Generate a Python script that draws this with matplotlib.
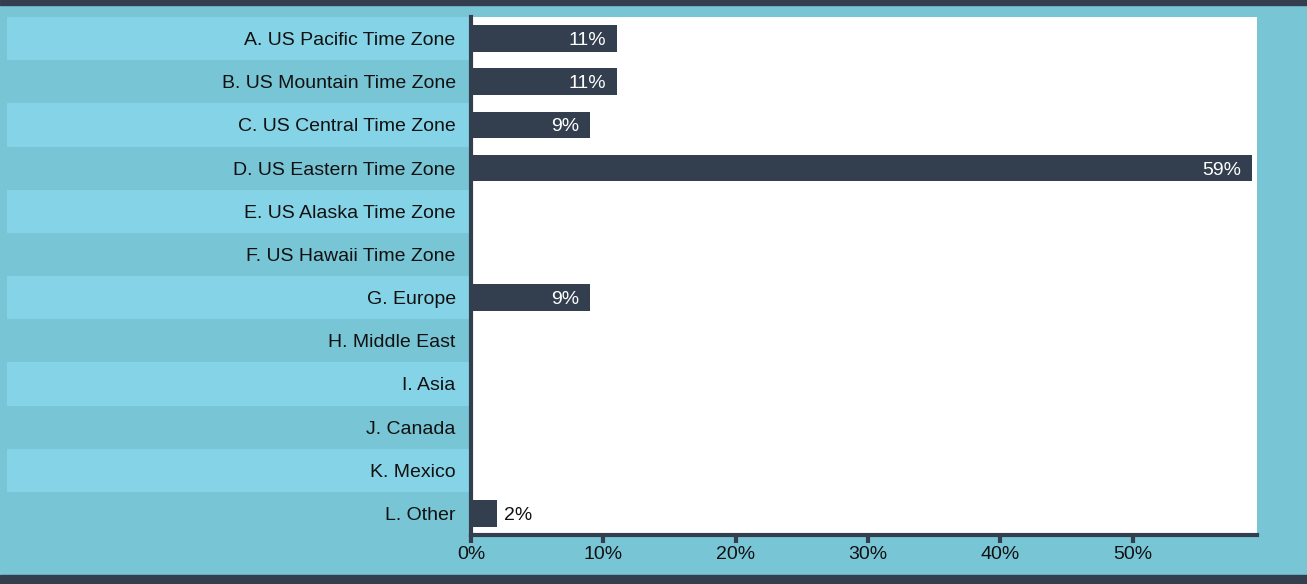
import matplotlib.pyplot as plt
from matplotlib.ticker import FuncFormatter

plt.rcParams['font.family'] = ['Liberation Sans', 'DejaVu Sans']

zones = ['A. US Pacific Time Zone', 'B. US Mountain Time Zone', 'C. US Central Time Zone',
         'D. US Eastern Time Zone', 'E. US Alaska Time Zone', 'F. US Hawaii Time Zone',
         'G. Europe', 'H. Middle East', 'I. Asia', 'J. Canada', 'K. Mexico', 'L. Other']
share = [11, 11, 9, 59, 0, 0, 9, 0, 0, 0, 0, 2]
ticks = [0, 10, 20, 30, 40, 50]

navy = '#333f4f'
teal = '#78c5d5'
light = '#85d3e6'

W, H = 1307, 584
fig = plt.figure(figsize=(W / 100, H / 100), dpi=100, facecolor=teal)

# dark bands at top and bottom
fig.add_artist(plt.Rectangle((0, 1 - 5 / H), 1, 5 / H, transform=fig.transFigure, color=navy))
fig.add_artist(plt.Rectangle((0, 0), 1, 9 / H, transform=fig.transFigure, color=navy))

left, right, top, bottom = 471 / W, 1257 / W, 1 - 17 / H, 1 - 535 / H
n = len(zones)
pos = list(range(n))

# striped band behind the category labels
sax = fig.add_axes([7 / W, bottom, left - 7 / W, top - bottom])
sax.set_ylim(n - 0.5, -0.5)
sax.set_xlim(0, 1)
for i in pos:
    sax.axhspan(i - 0.5, i + 0.5, color=light if i % 2 == 0 else teal, lw=0)
sax.axis('off')

ax = fig.add_axes([left, bottom, right - left, top - bottom])
ax.set_facecolor('white')
ax.barh(pos, share, height=0.62, color=navy)
ax.set_ylim(n - 0.5, -0.5)
ax.set_xlim(0, 59.4)

fs = 14
for i, v in enumerate(share):
    if v == 0:
        continue
    if v >= 5:
        ax.text(v - 0.8, i, f'{v}%', ha='right', va='center_baseline', color='white', fontsize=fs)
    else:
        ax.text(v + 0.5, i, f'{v}%', ha='left', va='center_baseline', color='#111111', fontsize=fs)

ax.set_yticks(pos)
ax.set_yticklabels(zones, fontsize=fs, color='#111111')
ax.tick_params(axis='y', length=0, pad=11)
ax.set_xticks(ticks)
ax.xaxis.set_major_formatter(FuncFormatter(lambda x, _: f'{x:.0f}%'))
ax.tick_params(axis='x', length=6, width=3, color=navy, labelsize=fs,
               labelcolor='#111111', pad=2)

for s in ['top', 'right']:
    ax.spines[s].set_visible(False)
for s in ['left', 'bottom']:
    ax.spines[s].set_color(navy)
    ax.spines[s].set_linewidth(3)

fig.savefig('out.png', dpi=100, facecolor=teal)
